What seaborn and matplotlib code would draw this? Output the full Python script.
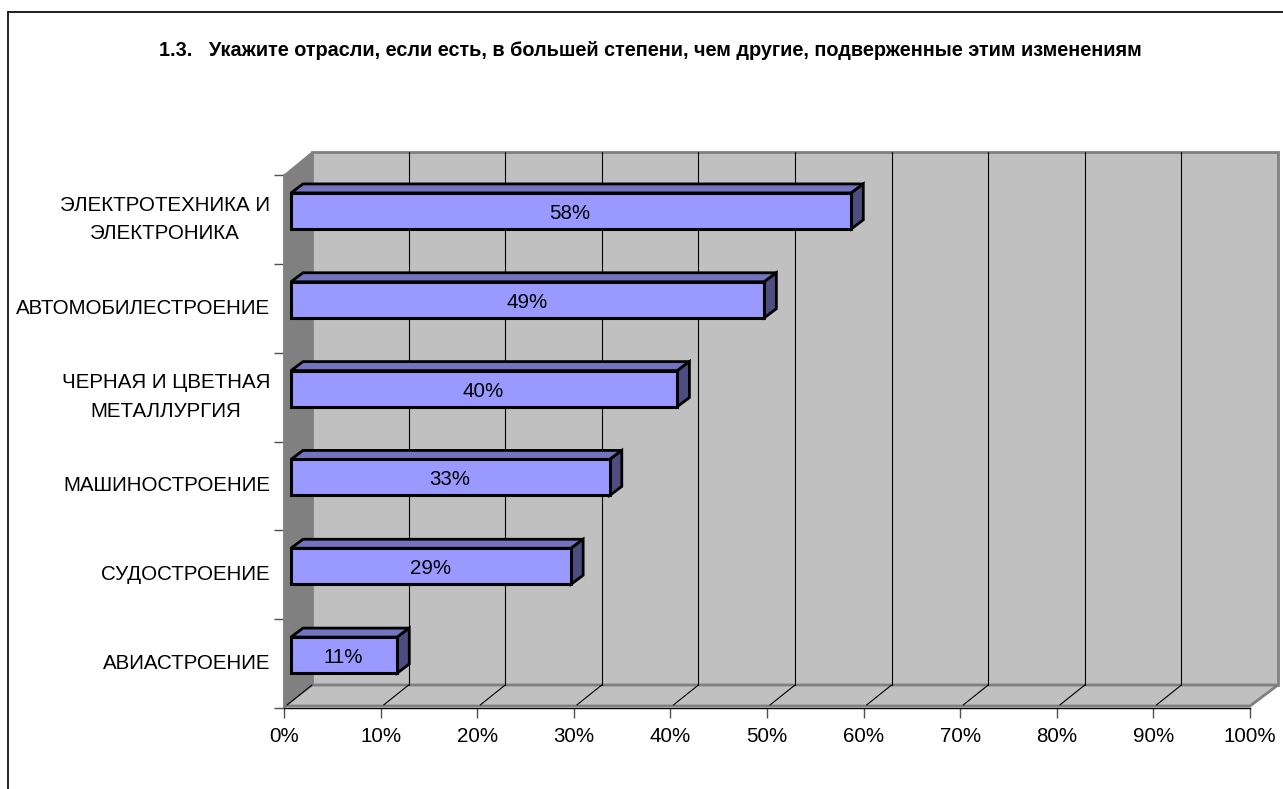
import matplotlib
matplotlib.use("Agg")
import matplotlib.pyplot as plt
from matplotlib.patches import Polygon, Rectangle
from matplotlib.transforms import Affine2D
import pandas as pd
import seaborn as sns

# Survey results, top to bottom
industries = ["ЭЛЕКТРОТЕХНИКА И\nЭЛЕКТРОНИКА", "АВТОМОБИЛЕСТРОЕНИЕ",
              "ЧЕРНАЯ И ЦВЕТНАЯ\nМЕТАЛЛУРГИЯ", "МАШИНОСТРОЕНИЕ",
              "СУДОСТРОЕНИЕ", "АВИАСТРОЕНИЕ"]
shares = [58, 49, 40, 33, 29, 11]
x_ticks = list(range(0, 101, 10))
title_text = "1.3.   Укажите отрасли, если есть, в большей степени, чем другие, подверженные этим изменениям"

W, H = 1283, 789
LABEL_SIZE = 14.75
sns.set_theme(style="white")
plt.rcParams["font.family"] = ["Liberation Sans", "DejaVu Sans"]

fig = plt.figure(figsize=(W / 100, H / 100), dpi=100, facecolor="white")
# Front plane of the pseudo-3D box, in pixels
L, R, T, B = 284, 1250, 175, 708
ax = fig.add_axes([L / W, 1 - B / H, (R - L) / W, (B - T) / H])
ax.patch.set_visible(False)

df = pd.DataFrame({"industry": industries, "share": shares})
sns.barplot(data=df, x="share", y="industry", orient="h", width=0.405,
            color="#9999FF", saturation=1, edgecolor="black", linewidth=2.2,
            ax=ax, zorder=5)
ax.set_xlim(0, 100)
ax.set_ylim(5.5, -0.5)
ax.set_xlabel("")
ax.set_ylabel("")


def shifted(dx, dy):
    """Data coordinates displaced by a pixel offset (dy is upward)."""
    return ax.transData + Affine2D().translate(dx, dy)


# Box depth in pixels
DX, DY = 28, 23
front = ax.transData
back = shifted(DX, DY)
ymin, ymax = 5.5, -0.5


def disp(points, tr):
    return [tr.transform(p) for p in points]


ident = Affine2D()
GREY = "#808080"
WALL = "#C0C0C0"
fig.canvas.draw()

# Back wall, side wall and floor
back_pts = disp([(0, ymin), (100, ymin), (100, ymax), (0, ymax)], back)
side_pts = disp([(0, ymin), (0, ymax)], front) + disp([(0, ymax), (0, ymin)], back)
floor_pts = disp([(0, ymin), (100, ymin)], shifted(0, 2)) + disp([(100, ymin), (0, ymin)], back)
ax.add_patch(Polygon(back_pts, closed=True, transform=ident, facecolor=WALL,
                     edgecolor=GREY, linewidth=2, zorder=1, clip_on=False))
ax.add_patch(Polygon(floor_pts, closed=True, transform=ident, facecolor=WALL,
                     edgecolor=GREY, linewidth=2, zorder=1.2, clip_on=False))
ax.add_patch(Polygon(side_pts, closed=True, transform=ident, facecolor=GREY,
                     edgecolor=GREY, linewidth=0.7, zorder=1.3, clip_on=False))

# Grid lines run up the back wall and across the floor
for tick in x_ticks[1:-1]:
    ax.plot([tick, tick], [ymin, ymax], color="black", lw=0.8, transform=back,
            zorder=1.5, clip_on=False)
    p0, p1 = disp([(tick, ymin)], front)[0], disp([(tick, ymin)], back)[0]
    ax.plot([p0[0] + 3, p1[0]], [p0[1] + 3, p1[1]], color="black", lw=0.8,
            transform=ident, zorder=1.5, clip_on=False)
p0, p1 = disp([(0, ymin)], front)[0], disp([(0, ymin)], back)[0]
ax.plot([p0[0] + 3, p1[0]], [p0[1] + 3, p1[1]], color="black", lw=0.8,
        transform=ident, zorder=1.5, clip_on=False)

# Bars: the front face sits inside the box, with top and side faces behind it
BAR_X, BAR_Y = 7, 8.5
BAR_DX, BAR_DY = 12, 9
bar_shift = Affine2D().translate(BAR_X, BAR_Y)
label_shift = Affine2D().translate(BAR_X - 1, BAR_Y - 2.5)
bars = [p for p in ax.patches if isinstance(p, Rectangle)]
for bar, value in zip(bars, shares):
    x0, y0 = ax.transData.transform((bar.get_x(), bar.get_y()))
    x1, y1 = ax.transData.transform((bar.get_x() + bar.get_width(),
                                     bar.get_y() + bar.get_height()))
    xl, xr = x0 + BAR_X, x1 + BAR_X
    yb, yt = min(y0, y1) + BAR_Y, max(y0, y1) + BAR_Y
    bar.set_transform(ax.transData + bar_shift)
    bar.set_clip_on(False)
    top = [(xl, yt), (xr, yt), (xr + BAR_DX, yt + BAR_DY), (xl + BAR_DX, yt + BAR_DY)]
    side = [(xr, yt), (xr, yb), (xr + BAR_DX, yb + BAR_DY), (xr + BAR_DX, yt + BAR_DY)]
    ax.add_patch(Polygon(top, closed=True, transform=ident, facecolor="#7373BF",
                         edgecolor="black", linewidth=2, zorder=4, clip_on=False,
                         joinstyle="miter"))
    ax.add_patch(Polygon(side, closed=True, transform=ident, facecolor="#4D4D80",
                         edgecolor="black", linewidth=2, zorder=4, clip_on=False,
                         joinstyle="miter"))
    ax.text(value / 2, bar.get_y() + bar.get_height() / 2, f"{value}%",
            transform=ax.transData + label_shift, ha="center", va="center",
            fontsize=LABEL_SIZE, color="black", zorder=6)

# Axes, ticks and labels
sns.despine(ax=ax, top=True, right=True)
ax.spines["left"].set(color=GREY, linewidth=1.2, zorder=2)
ax.spines["bottom"].set(color="black", linewidth=1, zorder=2)
ax.set_xticks(x_ticks, [f"{t}%" for t in x_ticks])
ax.set_yticks([i - 0.5 for i in range(7)], minor=False)
ax.set_yticklabels([""] * 7)
ax.tick_params(axis="x", length=7, width=1, color="#505050", labelsize=LABEL_SIZE,
               pad=6.5, labelcolor="black", bottom=True)
ax.tick_params(axis="y", length=7, width=1, color="#505050", left=True)
for i, label in enumerate(industries):
    ax.annotate(label, xy=(0, i), xycoords=("axes fraction", "data"),
                xytext=(-14, 0), textcoords="offset pixels", ha="right",
                va="center", multialignment="center", fontsize=LABEL_SIZE,
                linespacing=1.63, color="black")

fig.text(650.5 / W, 1 - 50 / H, title_text, ha="center", va="center",
         fontsize=14.3, fontweight="bold", color="black")

# Chart border: only the top and left edges fall inside the canvas
frame_kw = dict(color="#202020", lw=1.4, transform=fig.transFigure, clip_on=False)
fig.add_artist(plt.Line2D([7.5 / W, 1], [1 - 12 / H, 1 - 12 / H], **frame_kw))
fig.add_artist(plt.Line2D([7.5 / W, 7.5 / W], [0, 1 - 12 / H], **frame_kw))

fig.savefig("out.png", dpi=100, facecolor="white")
